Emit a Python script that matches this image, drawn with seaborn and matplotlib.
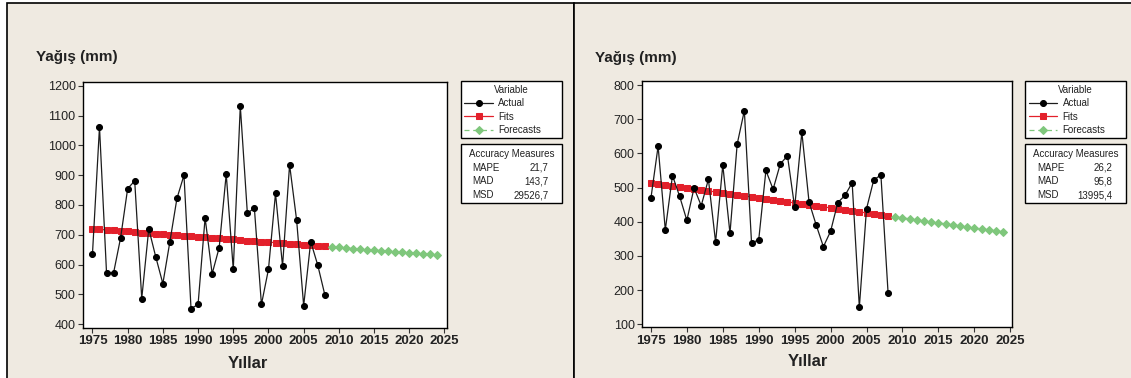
import numpy as np
import pandas as pd
import matplotlib
matplotlib.use("Agg")
import matplotlib.pyplot as plt
from matplotlib.patches import Rectangle
import seaborn as sns

# ---------------- data ----------------
years_obs = list(range(1975, 2009))
years_fc = list(range(2009, 2025))

# Station A
actual_a = [635, 1062, 572, 572, 690, 855, 881, 486, 720, 625,
            536, 677, 822, 900, 452, 466, 757, 569, 657, 904,
            584, 1132, 773, 789, 466, 584, 839, 595, 935, 749,
            462, 677, 598, 499]
fits_a = [720.0, 718.2, 716.4, 714.6, 712.8, 711.1, 709.3, 707.5, 705.7, 703.9,
          702.1, 700.3, 698.5, 696.7, 694.9, 693.2, 691.4, 689.6, 687.8, 686.0,
          684.2, 682.4, 680.6, 678.8, 677.0, 675.3, 673.5, 671.7, 669.9, 668.1,
          666.3, 664.5, 662.7, 660.9]
forecast_a = [659.1, 657.4, 655.6, 653.8, 652.0, 650.2, 648.4, 646.6,
              644.8, 643.0, 641.2, 639.5, 637.7, 635.9, 634.1, 632.3]
measures_a = [("MAPE", "21,7"), ("MAD", "143,7"), ("MSD", "29526,7")]

# Station B
actual_b = [469, 621, 376, 535, 474, 404, 499, 447, 524, 340,
            566, 366, 627, 725, 338, 347, 550, 495, 569, 593,
            442, 662, 458, 390, 327, 372, 456, 477, 514, 150,
            438, 522, 537, 191]
fits_b = [513.5, 510.6, 507.7, 504.7, 501.8, 498.9, 496.0, 493.1, 490.1, 487.2,
          484.3, 481.4, 478.5, 475.5, 472.6, 469.7, 466.8, 463.9, 460.9, 458.0,
          455.1, 452.2, 449.3, 446.3, 443.4, 440.5, 437.6, 434.7, 431.7, 428.8,
          425.9, 423.0, 420.1, 417.1]
forecast_b = [414.2, 411.3, 408.4, 405.5, 402.5, 399.6, 396.7, 393.8,
              390.9, 387.9, 385.0, 382.1, 379.2, 376.3, 373.3, 370.4]
measures_b = [("MAPE", "26,2"), ("MAD", "95,8"), ("MSD", "13995,4")]

x_ticks = list(range(1975, 2030, 5))
y_ticks_a = list(range(400, 1300, 100))
y_ticks_b = list(range(100, 900, 100))

title_text = "Yağış (mm)"
xlabel_text = "Yıllar"
legend_title = "Variable"
series_names = ["Actual", "Fits", "Forecasts"]
measures_title = "Accuracy Measures"

# ---------------- style ----------------
sns.set_style("ticks")
plt.rcParams["font.family"] = ["Liberation Sans", "DejaVu Sans"]

W, H = 1131, 378
BG = "#EFEAE1"
TXT = "#222222"
RED = "#E3202B"
GREEN = "#7FC77C"

fig = plt.figure(figsize=(W / 100, H / 100), dpi=100)
fig.patch.set_facecolor("white")


def fx(px):
    return px / W


def fy(py):
    return 1 - py / H


# panel backgrounds with black frame
for x0, x1 in [(6.7, 574.3), (574.3, W + 5)]:
    fig.add_artist(Rectangle((fx(x0), fy(H + 5)), fx(x1 - x0), (H + 5 - 2.7) / H,
                             transform=fig.transFigure, facecolor=BG,
                             edgecolor="black", linewidth=1.2, zorder=0))

panels = [
    dict(actual=actual_a, fits=fits_a, fc=forecast_a, meas=measures_a,
         yticks=y_ticks_a, ylim=(388, 1214), xlim=(1973.7, 2025.4),
         ax_px=(83.3, 81.7, 447.3, 327.7), title_xy=(36, 57),
         xlabel_xy=(248, 363), leg_x=(461, 561.7)),
    dict(actual=actual_b, fits=fits_b, fc=forecast_b, meas=measures_b,
         yticks=y_ticks_b, ylim=(91, 811), xlim=(1973.8, 2025.2),
         ax_px=(642.3, 81.3, 1011.7, 327.3), title_xy=(595, 58),
         xlabel_xy=(808, 362), leg_x=(1025.3, 1125.7)),
]

for p in panels:
    l, t, r, b = p["ax_px"]
    ax = fig.add_axes([fx(l), fy(b), fx(r - l), (b - t) / H])
    ax.set_facecolor("white")

    df_act = pd.DataFrame({"Year": years_obs, "Value": p["actual"]})
    df_fit = pd.DataFrame({"Year": years_obs, "Value": p["fits"]})
    df_fc = pd.DataFrame({"Year": years_fc, "Value": p["fc"]})

    sns.lineplot(data=df_act, x="Year", y="Value", ax=ax, color="#1c1c1c",
                 linewidth=0.9, marker="o", markersize=4.3,
                 markeredgecolor="black", markerfacecolor="black",
                 label=series_names[0], zorder=4)
    sns.lineplot(data=df_fit, x="Year", y="Value", ax=ax, color=RED,
                 linewidth=0.9, marker="s", markersize=3.8,
                 markeredgecolor=RED, markerfacecolor=RED,
                 label=series_names[1], zorder=3)
    sns.lineplot(data=df_fc, x="Year", y="Value", ax=ax, color=GREEN,
                 linewidth=0.9, linestyle=(0, (4, 3)), marker="D", markersize=3.8,
                 markeredgecolor=GREEN, markerfacecolor=GREEN,
                 label=series_names[2], zorder=3)

    ax.set_xlim(*p["xlim"])
    ax.set_ylim(*p["ylim"])
    ax.set_xticks(x_ticks)
    ax.set_yticks(p["yticks"])
    ax.set_xlabel("")
    ax.set_ylabel("")
    for s in ax.spines.values():
        s.set_visible(True)
        s.set_color("black")
        s.set_linewidth(1.0)
    ax.tick_params(axis="both", direction="out", length=3.5, width=0.8,
                   color="#333333", pad=2)
    ax.tick_params(axis="x", labelsize=9.5, labelcolor=TXT)
    ax.tick_params(axis="y", labelsize=9, labelcolor=TXT)
    for lab in ax.get_xticklabels():
        lab.set_fontweight("bold")

    # title and x label
    fig.text(fx(p["title_xy"][0]), fy(p["title_xy"][1]), title_text,
             fontsize=11, fontweight="bold", color=TXT, ha="left", va="center")
    fig.text(fx(p["xlabel_xy"][0]), fy(p["xlabel_xy"][1]), xlabel_text,
             fontsize=12, fontweight="bold", color=TXT, ha="center", va="center")

    # legend box
    lx0, lx1 = p["leg_x"]
    handles, labels = ax.get_legend_handles_labels()
    leg = ax.legend(handles, labels, title=legend_title, loc="upper left",
                    bbox_to_anchor=(fx(lx0), fy(140.7), fx(lx1 - lx0), (140.7 - 81.3) / H),
                    bbox_transform=fig.transFigure, mode="expand",
                    fontsize=7, title_fontsize=7, frameon=True, fancybox=False,
                    edgecolor="black", framealpha=1, facecolor="white",
                    borderaxespad=0, borderpad=0.35, labelspacing=0.35,
                    handlelength=2.9, handletextpad=0.6, markerscale=1.0)
    leg.get_frame().set_linewidth(1.0)
    leg._legend_box.align = "center"
    for txt in leg.get_texts():
        txt.set_color(TXT)
    leg.get_title().set_color(TXT)

    # accuracy measures box
    fig.add_artist(Rectangle((fx(lx0), fy(202.7)), fx(lx1 - lx0), (202.7 - 144.3) / H,
                             transform=fig.transFigure, facecolor="white",
                             edgecolor="black", linewidth=1.0, zorder=5))
    fig.text(fx((lx0 + lx1) / 2), fy(153.7), measures_title, fontsize=7,
             color=TXT, ha="center", va="center", zorder=6)
    for i, (name, val) in enumerate(p["meas"]):
        yy = 167.7 + i * 13.7
        fig.text(fx(lx0 + 11.7), fy(yy), name, fontsize=7, color=TXT,
                 ha="left", va="center", zorder=6)
        fig.text(fx(lx1 - 13.4), fy(yy), val, fontsize=7, color=TXT,
                 ha="right", va="center", zorder=6)

fig.savefig("out.png", dpi=100, facecolor=fig.get_facecolor())
